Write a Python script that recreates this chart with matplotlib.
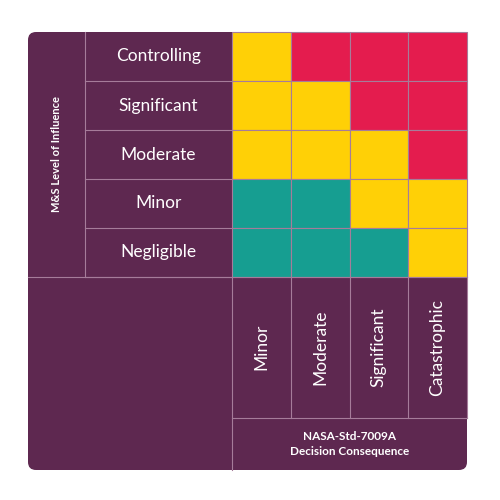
import matplotlib
matplotlib.use("Agg")
import matplotlib.pyplot as plt
from matplotlib.patches import Rectangle, FancyBboxPatch

rows = ["Controlling", "Significant", "Moderate", "Minor", "Negligible"]
cols = ["Minor", "Moderate", "Significant", "Catastrophic"]
levels = [["Y", "R", "R", "R"],
          ["Y", "Y", "R", "R"],
          ["Y", "Y", "Y", "R"],
          ["T", "T", "Y", "Y"],
          ["T", "T", "T", "Y"]]
y_title = "M&S Level of Influence"
x_title = "NASA-Std-7009A\nDecision Consequence"

colors = {"Y": "#FFD006", "R": "#E41C4E", "T": "#169E91"}
purple = "#5E2850"
line = "#A67C9A"

fig = plt.figure(figsize=(5, 5), dpi=100)
ax = fig.add_axes([0, 0, 1, 1])
ax.set_xlim(0, 500); ax.set_ylim(500, 0); ax.axis("off")

L, R, T, B = 28, 467, 32, 470
ax.add_patch(FancyBboxPatch((L, T), R - L, B - T, boxstyle="round,pad=0,rounding_size=8",
                            fc=purple, ec="none"))
x0, cw = 232, (R - 232) / len(cols)
y0 = T
rh = (277 - T) / len(rows)
for i, r in enumerate(rows):
    for j, c in enumerate(cols):
        ax.add_patch(Rectangle((x0 + j * cw, y0 + i * rh), cw, rh,
                               fc=colors[levels[i][j]], ec=line, lw=0.8))
    ax.text((85 + 232) / 2, y0 + (i + 0.5) * rh, r, color="white", fontsize=12.5,
            family="Lato", ha="center", va="center")
    ax.plot([85, 232], [y0 + (i + 1) * rh] * 2, color=line, lw=0.8)
ax.plot([85, 85], [T, 277], color=line, lw=0.8)
ax.plot([L, R], [277, 277], color=line, lw=0.8)
ax.plot([232, 232], [277, B], color=line, lw=0.8)
ax.plot([232, R], [418, 418], color=line, lw=0.8)
for j, c in enumerate(cols):
    ax.plot([x0 + (j + 1) * cw] * 2, [277, 418], color=line, lw=0.8)
    ax.text(x0 + (j + 0.5) * cw, 347, c, color="white", fontsize=12.5, family="Lato",
            rotation=90, ha="center", va="center")
ax.text(56, 154, y_title, color="white", fontsize=8, fontweight="bold", family="Lato",
        rotation=90, ha="center", va="center")
ax.text((232 + R) / 2, 444, x_title, color="white", fontsize=8.5, fontweight="bold",
        family="Lato", ha="center", va="center", linespacing=1.4)
fig.savefig("out.png", dpi=100, facecolor="white")
